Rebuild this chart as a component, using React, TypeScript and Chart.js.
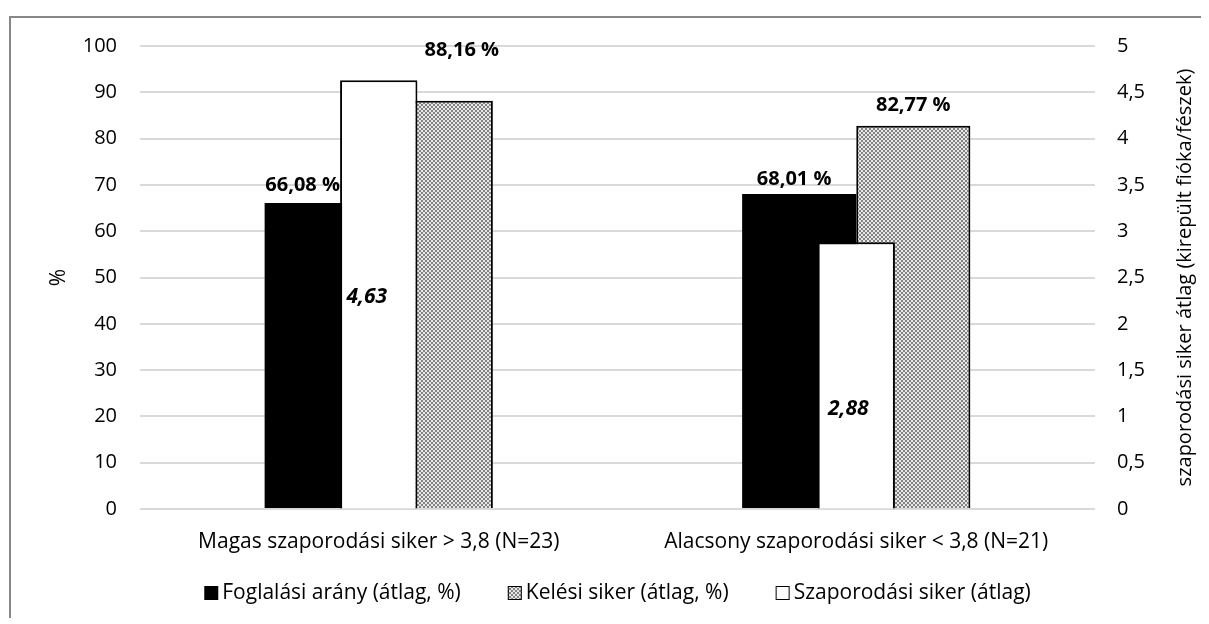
import React, { useEffect, useRef } from "react";
import { Chart, registerables } from "chart.js";

Chart.register(...registerables);

const categories = [
  "Magas szaporodási siker > 3,8 (N=23)",
  "Alacsony szaporodási siker < 3,8 (N=21)",
];
const seriesNames = [
  "Foglalási arány (átlag, %)",
  "Kelési siker (átlag, %)",
  "Szaporodási siker (átlag)",
];
const foglalasiArany = [66.08, 68.01];
const kelesiSiker = [88.16, 82.77];
const szaporodasiSiker = [4.63, 2.88];
const leftAxisTitle = "%";
const rightAxisTitle = "szaporodási siker átlag (kirepült fióka/fészek)";

const FONT = "'Open Sans', Lato, sans-serif";

const comma = (v: number, digits?: number) =>
  (digits === undefined ? String(v) : v.toFixed(digits)).replace(".", ",");

function makePattern(): CanvasPattern | string {
  const c = document.createElement("canvas");
  c.width = 4;
  c.height = 4;
  const g = c.getContext("2d");
  if (!g) return "#b0b0b0";
  g.fillStyle = "#e6e6e6";
  g.fillRect(0, 0, 4, 4);
  g.fillStyle = "#858585";
  g.fillRect(0, 0, 2, 2);
  g.fillRect(2, 2, 2, 2);
  const p = g.createPattern(c, "repeat");
  return p || "#b0b0b0";
}

const labelPlugin = {
  id: "barLabels",
  afterDatasetsDraw(chart: any, _args: any, opts: any) {
    const ctx = chart.ctx;
    chart.data.datasets.forEach((ds: any, di: number) => {
      const cfg = opts.sets[di];
      if (!cfg) return;
      const meta = chart.getDatasetMeta(di);
      meta.data.forEach((bar: any, i: number) => {
        const off = cfg.offsets[i];
        ctx.save();
        ctx.font = cfg.font;
        ctx.fillStyle = "#000";
        ctx.textAlign = "center";
        ctx.textBaseline = "middle";
        ctx.fillText(cfg.format(ds.data[i]), bar.x + off[0], bar.y + off[1]);
        ctx.restore();
      });
    });
  },
};

const rightTitlePlugin = {
  id: "rightTitle",
  afterDraw(chart: any, _args: any, opts: any) {
    const ctx = chart.ctx;
    const area = chart.chartArea;
    const s = chart.scales.y1;
    ctx.save();
    ctx.translate(s.right - opts.inset, (area.top + area.bottom) / 2);
    ctx.rotate(-Math.PI / 2);
    ctx.font = opts.font;
    ctx.fillStyle = "#000";
    ctx.textAlign = "center";
    ctx.textBaseline = "middle";
    ctx.fillText(opts.text, 0, 0);
    ctx.restore();
  },
};

const customLegendPlugin = {
  id: "customLegend",
  afterDraw(chart: any, _args: any, opts: any) {
    const ctx = chart.ctx;
    const area = chart.chartArea;
    const ds = chart.data.datasets;
    ctx.save();
    ctx.font = opts.font;
    const widths = ds.map(
      (d: any) => opts.box + opts.textGap + ctx.measureText(d.label).width
    );
    const total =
      widths.reduce((a: number, b: number) => a + b, 0) +
      opts.itemGap * (ds.length - 1);
    let x = (area.left + area.right) / 2 - total / 2;
    const cy = chart.height - opts.bottom;
    ds.forEach((d: any, i: number) => {
      ctx.fillStyle = d.backgroundColor;
      ctx.fillRect(x, cy - opts.box / 2, opts.box, opts.box);
      if (d.borderWidth > 0) {
        ctx.strokeStyle = "#000";
        ctx.lineWidth = 1;
        ctx.strokeRect(x + 0.5, cy - opts.box / 2 + 0.5, opts.box - 1, opts.box - 1);
      }
      ctx.fillStyle = "#000";
      ctx.textAlign = "left";
      ctx.textBaseline = "middle";
      ctx.fillText(d.label, x + opts.box + opts.textGap, cy);
      x += widths[i] + opts.itemGap;
    });
    ctx.restore();
  },
};

export default function App() {
  const ref = useRef<HTMLCanvasElement>(null);

  useEffect(() => {
    if (!ref.current) return;
    const pattern = makePattern();
    const chart = new Chart(ref.current, {
      type: "bar",
      data: {
        labels: categories,
        datasets: [
          {
            label: seriesNames[0],
            data: foglalasiArany,
            backgroundColor: "#000000",
            borderColor: "#000000",
            borderWidth: 0,
            yAxisID: "y",
            order: 1,
            categoryPercentage: 0.478,
            barPercentage: 1,
          },
          {
            label: seriesNames[1],
            data: kelesiSiker,
            backgroundColor: pattern as any,
            borderColor: "#000000",
            borderWidth: 2,
            yAxisID: "y",
            order: 2,
            categoryPercentage: 0.478,
            barPercentage: 1,
          },
          {
            label: seriesNames[2],
            data: szaporodasiSiker,
            backgroundColor: "#ffffff",
            borderColor: "#000000",
            borderWidth: 2,
            yAxisID: "y1",
            order: 0,
            grouped: false,
            categoryPercentage: 1,
            barPercentage: 0.162,
          },
        ],
      },
      options: {
        animation: false,
        responsive: false,
        layout: { padding: { top: 28, right: 0, bottom: 0, left: 0 } },
        scales: {
          x: {
            grid: { display: false },
            border: { display: false },
            ticks: {
              color: "#000",
              font: { family: FONT, size: 21 },
              padding: 12,
              maxRotation: 0,
            },
            afterFit: (s: any) => {
              s.height = 109;
            },
          },
          y: {
            position: "left",
            min: 0,
            max: 100,
            ticks: {
              stepSize: 10,
              color: "#000",
              font: { family: FONT, size: 20 },
              padding: 10,
            },
            grid: {
              color: "#d9d9d9",
              lineWidth: 2,
              drawTicks: true,
              tickLength: 13,
              tickColor: "rgba(0,0,0,0)",
            },
            border: { display: false },
            title: {
              display: true,
              text: leftAxisTitle,
              color: "#000",
              font: { family: FONT, size: 21 },
              padding: { top: 35, bottom: 0 },
            },
            afterFit: (s: any) => {
              s.width = 129;
            },
          },
          y1: {
            position: "right",
            min: 0,
            max: 5,
            ticks: {
              stepSize: 0.5,
              color: "#000",
              font: { family: FONT, size: 20 },
              padding: 10,
              callback: (v: any) => comma(Number(v)),
            },
            grid: {
              display: true,
              drawOnChartArea: false,
              color: "rgba(0,0,0,0)",
              drawTicks: true,
              tickLength: 12,
              tickColor: "rgba(0,0,0,0)",
            },
            border: { display: false },
            afterFit: (s: any) => {
              s.width = 107;
            },
          },
        },
        plugins: {
          legend: { display: false },
          tooltip: { enabled: false },
          barLabels: {
            sets: [
              {
                font: `bold 20px ${FONT}`,
                format: (v: number) => comma(v, 2) + " %",
                offsets: [
                  [-19, -18],
                  [-5, -15],
                ],
              },
              {
                font: `bold 20px ${FONT}`,
                format: (v: number) => comma(v, 2) + " %",
                offsets: [
                  [26, -51],
                  [0, -20],
                ],
              },
              {
                font: `italic bold 21px ${FONT}`,
                format: (v: number) => comma(v, 2),
                offsets: [
                  [-12, 217],
                  [-8, 167],
                ],
              },
            ],
          },
          rightTitle: {
            text: rightAxisTitle,
            font: `20px ${FONT}`,
            inset: 17,
          },
          customLegend: {
            font: `21px ${FONT}`,
            box: 14,
            textGap: 4,
            itemGap: 47,
            bottom: 25,
          },
        } as any,
      },
      plugins: [labelPlugin, rightTitlePlugin, customLegendPlugin],
    });
    return () => chart.destroy();
  }, []);

  return (
    <div style={{ paddingTop: 8, paddingLeft: 1 }}>
      <div
        style={{
          borderLeft: "2px solid #878787",
          borderTop: "2px solid #878787",
          width: 1191,
          height: 600,
        }}
      >
        <canvas ref={ref} width={1191} height={600} style={{ display: "block" }} />
      </div>
    </div>
  );
}
